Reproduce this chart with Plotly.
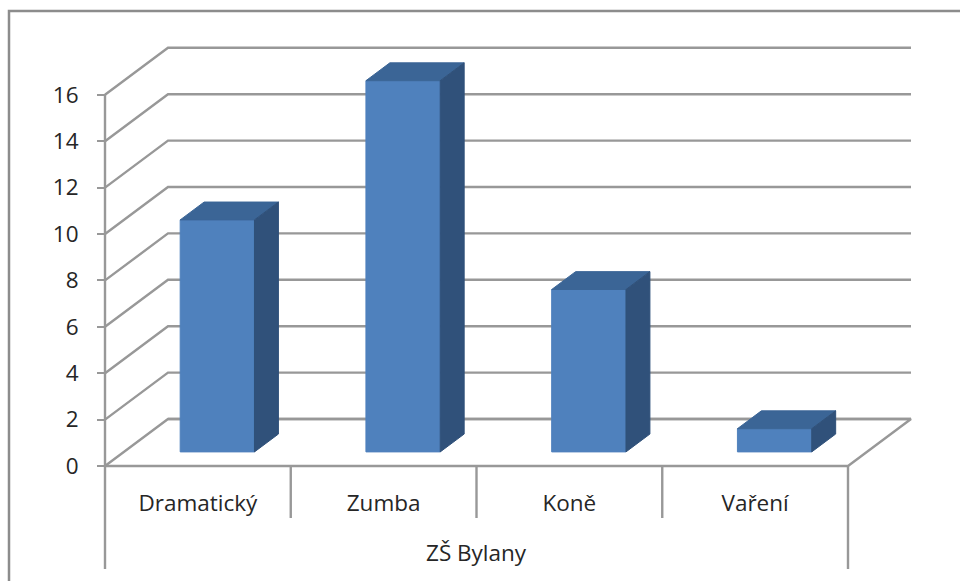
import plotly.graph_objects as go

categories = ["Dramatický", "Zumba", "Koně", "Vaření"]
values = [10, 16, 7, 1]
group_label = "ZŠ Bylany"
y_ticks = [0, 2, 4, 6, 8, 10, 12, 14, 16]

W, H = 960, 581
X0, Y0 = 105.0, 466.0
PX_CAT = 185.75
PX_UNIT = 23.2
DX = 63 / PX_CAT     # oblique depth in category units
DY = 47 / PX_UNIT    # oblique depth in value units
BAR_W = 0.40
BAR_SHIFT = 0.003
D_FRONT, D_BACK = 0.30, 0.68
AXIS = "#989898"
FRONT, TOP, SIDE = "#4F81BD", "#3B6596", "#30517A"
FONT = "Open Sans"
TEXT = "#262626"
LW = 2.4
LABEL_SIZE = 22.5

fig = go.Figure()


def line(xs, ys, width=LW):
    fig.add_trace(go.Scatter(x=xs, y=ys, mode="lines", showlegend=False, hoverinfo="skip",
                             line=dict(color=AXIS, width=width)))


def face(xs, ys, color):
    fig.add_trace(go.Scatter(x=xs, y=ys, mode="lines", fill="toself", fillcolor=color, showlegend=False,
                             hoverinfo="skip", line=dict(color=color, width=1)))


n = len(categories)
for t in y_ticks:
    line([0, DX, n + DX], [t, t + DY, t + DY])
line([DX, n + DX, n, 0], [DY, DY, 0, 0])
line([0, 0], [y_ticks[-1], -103 / PX_UNIT])
line([n, n], [0, -103 / PX_UNIT])
for i in range(1, n):
    line([i, i], [0, -52 / PX_UNIT])

for i, v in enumerate(values):
    xl = i + 0.5 - BAR_W / 2 + D_FRONT * DX + BAR_SHIFT
    xr = xl + BAR_W
    b = D_FRONT * DY
    sx, sy = (D_BACK - D_FRONT) * DX, (D_BACK - D_FRONT) * DY
    face([xl, xr, xr, xl, xl], [b, b, b + v, b + v, b], FRONT)
    face([xl, xr, xr + sx, xl + sx, xl], [b + v, b + v, b + v + sy, b + v + sy, b + v], TOP)
    face([xr, xr + sx, xr + sx, xr, xr], [b, b + sy, b + v + sy, b + v, b], SIDE)

fig.add_annotation(x=n / 2, y=-86 / PX_UNIT, text=group_label, showarrow=False,
                   font=dict(family=FONT, size=LABEL_SIZE, color=TEXT))

fig.add_shape(type="rect", xref="paper", yref="paper", x0=9 / W, x1=1.05, y0=-0.05, y1=1 - 11 / H,
              line=dict(color="#8C8C8C", width=2.5), layer="below")

fig.update_layout(
    width=W, height=H, margin=dict(l=0, r=0, t=0, b=0), autosize=False,
    paper_bgcolor="white", plot_bgcolor="rgba(0,0,0,0)", showlegend=False,
    xaxis=dict(domain=[0, 1], range=[-X0 / PX_CAT, (W - X0) / PX_CAT], anchor="free",
               position=(H - Y0) / H, tickmode="array", tickvals=[i + 0.5 for i in range(n)],
               ticktext=categories, showgrid=False, zeroline=False, showline=False,
               ticks="outside", ticklen=17, tickcolor="rgba(0,0,0,0)",
               tickangle=0, tickfont=dict(family=FONT, size=LABEL_SIZE, color=TEXT)),
    yaxis=dict(domain=[0, 1], range=[(Y0 - H) / PX_UNIT, Y0 / PX_UNIT], anchor="free",
               position=X0 / W, tickmode="array", tickvals=y_ticks, showgrid=False,
               zeroline=False, showline=False, ticks="outside", ticklen=8, tickwidth=LW,
               tickcolor=AXIS, ticklabelstandoff=14,
               tickfont=dict(family=FONT, size=LABEL_SIZE, color=TEXT)),
)
fig.write_html("out.html", config={"displayModeBar": False},
               post_script="document.body.style.margin='0';document.body.style.overflow='hidden';")
